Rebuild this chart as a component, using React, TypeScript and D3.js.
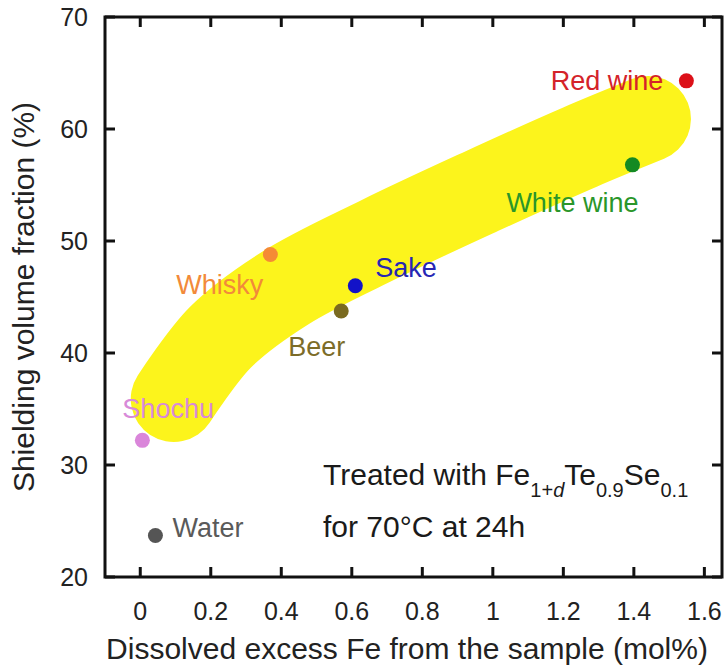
import React from "react";
import * as d3 from "d3";

// samples: excess Fe (mol%) vs shielding volume fraction (%)
const names = ["Red wine", "White wine", "Whisky", "Sake", "Beer", "Shochu", "Water"];
const feValues = [1.549, 1.396, 0.369, 0.61, 0.57, 0.006, 0.043];
const shieldValues = [64.3, 56.8, 48.8, 46.0, 43.75, 32.2, 23.7];
const dotColors = ["#dc1018", "#148a22", "#f58b35", "#1212c8", "#7a6a20", "#da86da", "#555555"];
const textColors = ["#d4232a", "#2a962a", "#f28a3a", "#2626b4", "#7c6c28", "#d88ad8", "#5a5a5a"];

// yellow guide band (centerline, data units)
const bandFe = [0.095, 0.227, 0.411, 0.681, 0.965, 1.248, 1.44];
const bandShield = [35.9, 41.4, 45.8, 50.2, 54.4, 58.4, 60.9];

const xTicks = [0, 0.2, 0.4, 0.6, 0.8, 1, 1.2, 1.4, 1.6];
const yTicks = [20, 30, 40, 50, 60, 70];

// label placement relative to each dot (px)
const labelPos: Record<string, { dx: number; dy: number; anchor: string }> = {
  "Red wine": { dx: -23, dy: 9, anchor: "end" },
  "White wine": { dx: 6, dy: 47, anchor: "end" },
  Whisky: { dx: -7, dy: 40, anchor: "end" },
  Sake: { dx: 20, dy: -9, anchor: "start" },
  Beer: { dx: 4, dy: 45, anchor: "end" },
  Shochu: { dx: -20, dy: -22, anchor: "start" },
  Water: { dx: 17, dy: 1, anchor: "start" },
};

const W = 724;
const H = 668;
const left = 105;
const right = 722;
const top = 17;
const bottom = 577;
const font = "'Liberation Sans', Arial, Helvetica, sans-serif";

export default function App() {
  const x = d3.scaleLinear().domain([-0.1, 1.65]).range([left, right]);
  const y = d3.scaleLinear().domain([20, 70]).range([bottom, top]);

  const band = d3
    .line<number>()
    .x((_, i) => x(bandFe[i]))
    .y((_, i) => y(bandShield[i]))
    .curve(d3.curveCatmullRom)(bandFe);

  const tickLen = 10;

  return (
    <svg
      width={W}
      height={H}
      style={{ position: "absolute", left: 0, top: 0, background: "#fff" }}
      fontFamily={font}
    >
      <path
        d={band || ""}
        fill="none"
        stroke="#fcf41c"
        strokeWidth={86}
        strokeLinecap="round"
        strokeLinejoin="round"
      />

      {/* frame */}
      <g stroke="#111" strokeWidth={3}>
        <rect x={left} y={top} width={right - left} height={bottom - top} fill="none" />
        {xTicks.map((t) => (
          <g key={"x" + t}>
            <line x1={x(t)} x2={x(t)} y1={bottom} y2={bottom - tickLen} />
            <line x1={x(t)} x2={x(t)} y1={top} y2={top + tickLen} />
          </g>
        ))}
        {yTicks.map((t) => (
          <g key={"y" + t}>
            <line x1={left} x2={left + tickLen} y1={y(t)} y2={y(t)} />
            <line x1={right} x2={right - tickLen} y1={y(t)} y2={y(t)} />
          </g>
        ))}
      </g>

      {/* tick labels */}
      <g fill="#222" fontSize={25}>
        {xTicks.map((t) => (
          <text key={"xl" + t} x={x(t)} y={620} textAnchor="middle">
            {d3.format("~g")(t)}
          </text>
        ))}
        {yTicks.map((t) => (
          <text key={"yl" + t} x={88} y={y(t) + 9} textAnchor="end">
            {t}
          </text>
        ))}
      </g>

      {/* axis titles */}
      <text x={407} y={659} fontSize={30} fill="#222" textAnchor="middle">
        Dissolved excess Fe from the sample (mol%)
      </text>
      <text
        transform={`translate(34,${(top + bottom) / 2}) rotate(-90)`}
        fontSize={30}
        fill="#222"
        textAnchor="middle"
      >
        Shielding volume fraction (%)
      </text>

      {/* points + labels */}
      {names.map((n, i) => {
        const px = x(feValues[i]);
        const py = y(shieldValues[i]);
        const lp = labelPos[n];
        return (
          <g key={n}>
            <circle cx={px} cy={py} r={7.5} fill={dotColors[i]} />
            <text
              x={px + lp.dx}
              y={py + lp.dy}
              textAnchor={lp.anchor}
              fontSize={27}
              fill={textColors[i]}
            >
              {n}
            </text>
          </g>
        );
      })}

      {/* annotation */}
      <text x={323} y={485} fontSize={30} fill="#1a1a1a">
        Treated with Fe
        <tspan fontSize={20} dy={12}>1+</tspan>
        <tspan fontSize={20} fontStyle="italic">d</tspan>
        <tspan dy={-12}>Te</tspan>
        <tspan fontSize={20} dy={12}>0.9</tspan>
        <tspan dy={-12}>Se</tspan>
        <tspan fontSize={20} dy={12}>0.1</tspan>
      </text>
      <text x={323} y={537} fontSize={30} fill="#1a1a1a">
        for 70°C at 24h
      </text>
    </svg>
  );
}
